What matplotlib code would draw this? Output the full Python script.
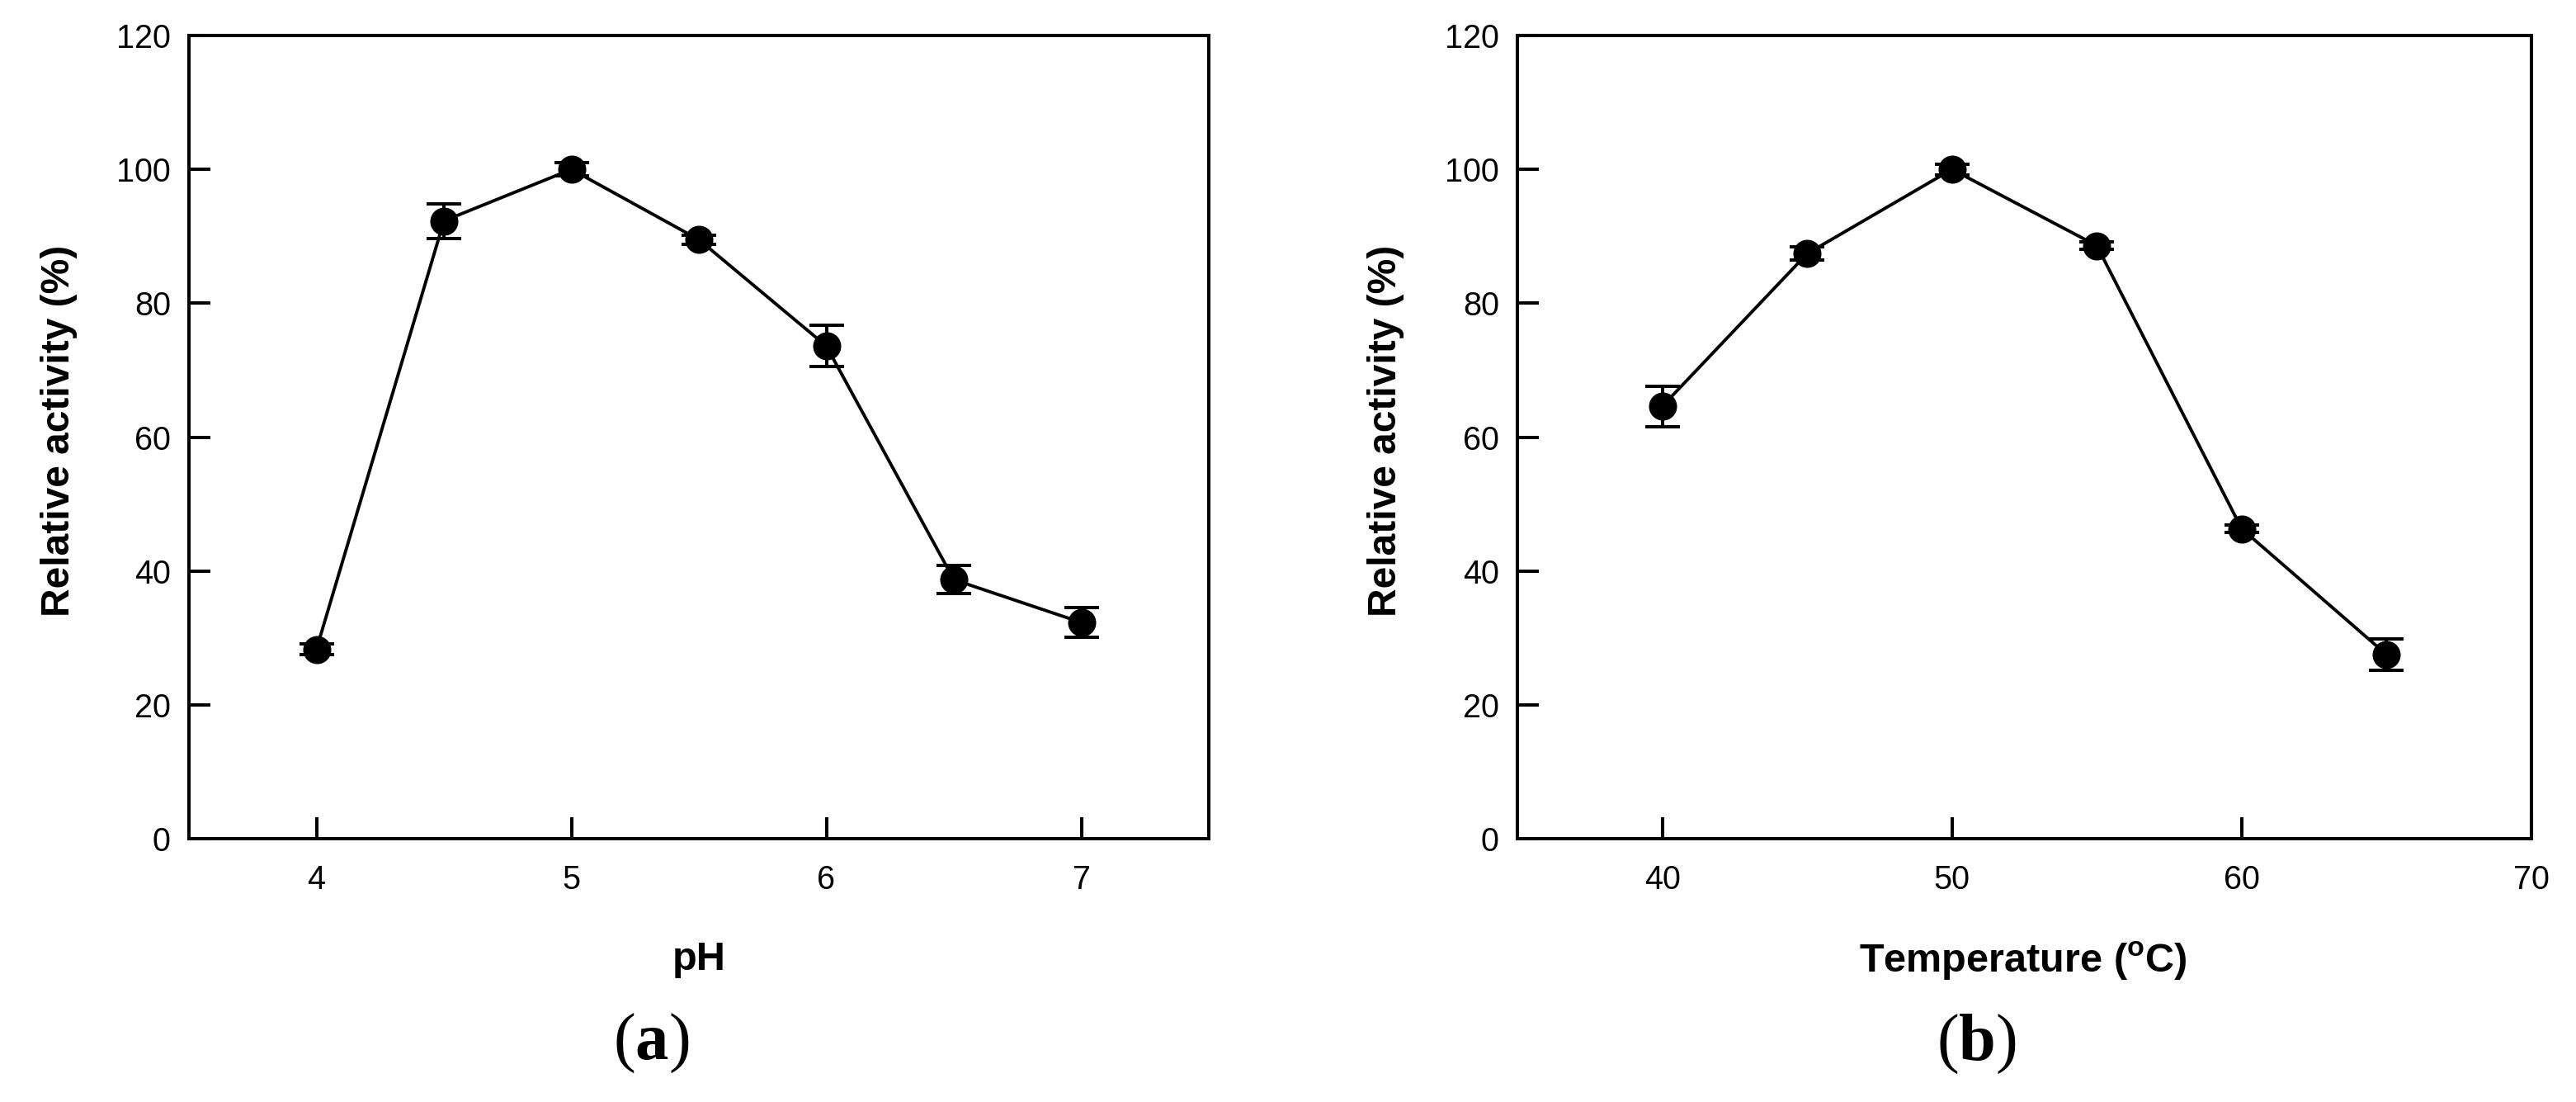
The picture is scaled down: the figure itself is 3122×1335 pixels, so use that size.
import matplotlib
matplotlib.use("Agg")
import matplotlib.pyplot as plt

# ---- data ----
ph = [4.0, 4.5, 5.0, 5.5, 6.0, 6.5, 7.0]
ph_activity = [28.3, 92.3, 100.0, 89.5, 73.6, 38.7, 32.3]
ph_error = [0.8, 2.6, 1.0, 0.7, 3.1, 2.1, 2.2]

temperature = [40, 45, 50, 55, 60, 65]
temp_activity = [64.6, 87.4, 100.0, 88.6, 46.3, 27.5]
temp_error = [3.0, 1.0, 0.8, 0.6, 0.6, 2.4]

y_ticks = [0, 20, 40, 60, 80, 100, 120]
ph_ticks = [4, 5, 6, 7]
temp_ticks = [40, 50, 60, 70]

plt.rcParams['font.family'] = ['Liberation Sans', 'DejaVu Sans']
plt.rcParams['mathtext.fontset'] = 'custom'
plt.rcParams['mathtext.rm'] = 'Liberation Serif'
plt.rcParams['mathtext.bf'] = 'Liberation Serif:bold'
plt.rcParams['mathtext.sf'] = 'Liberation Sans:bold'

W, H = 3122, 1335
fig = plt.figure(figsize=(W / 100, H / 100), dpi=100)

def px_x(x):
    return x / W

def px_y(y):
    return 1 - y / H

top, bottom = 43, 1016
axA = fig.add_axes([px_x(229), px_y(bottom), px_x(1465 - 229), (bottom - top) / H])
axB = fig.add_axes([px_x(1839), px_y(bottom), px_x(3068 - 1839), (bottom - top) / H])

def style(ax, xlim, xticks):
    ax.set_xlim(*xlim)
    ax.set_ylim(0, 120)
    ax.set_yticks(y_ticks)
    ax.set_xticks(xticks)
    for s in ax.spines.values():
        s.set_linewidth(2.9)
        s.set_color('black')
    ax.tick_params(axis='both', direction='in', length=19, width=2.9,
                   labelsize=28.5, top=False, right=False)
    ax.tick_params(axis='y', pad=16)
    ax.tick_params(axis='x', pad=22)

def draw(ax, x, y, e):
    ax.errorbar(x, y, yerr=e, fmt='-o', color='black', lw=2.8, ms=23.5,
                mec='black', mfc='black', elinewidth=2.9, capsize=14.8,
                capthick=2.9, zorder=3, clip_on=False)

draw(axA, ph, ph_activity, ph_error)
style(axA, (3.5, 7.5), ph_ticks)
draw(axB, temperature, temp_activity, temp_error)
style(axB, (35, 70), temp_ticks)

ymid = (top + bottom) / 2 - 8
fig.text(px_x(72), px_y(ymid), 'Relative activity (%)', rotation=90,
         ha='center', va='center', fontsize=34.5, fontweight='bold')
fig.text(px_x(1680), px_y(ymid), 'Relative activity (%)', rotation=90,
         ha='center', va='center', fontsize=34.5, fontweight='bold')

fig.text(px_x(847), px_y(1175), 'pH', ha='center', va='baseline',
         fontsize=35, fontweight='bold')
fig.text(px_x(2452), px_y(1178), r'Temperature ($^{\mathsf{o}}$C)', ha='center',
         va='baseline', fontsize=35, fontweight='bold')

fig.text(px_x(789), px_y(1264), r'$\mathrm{(}\mathbf{a}\mathrm{)}$', ha='center',
         va='center', fontsize=58)
fig.text(px_x(2395), px_y(1265), r'$\mathrm{(}\mathbf{b}\mathrm{)}$', ha='center',
         va='center', fontsize=58)

fig.savefig('out.png', dpi=100, facecolor='white')
